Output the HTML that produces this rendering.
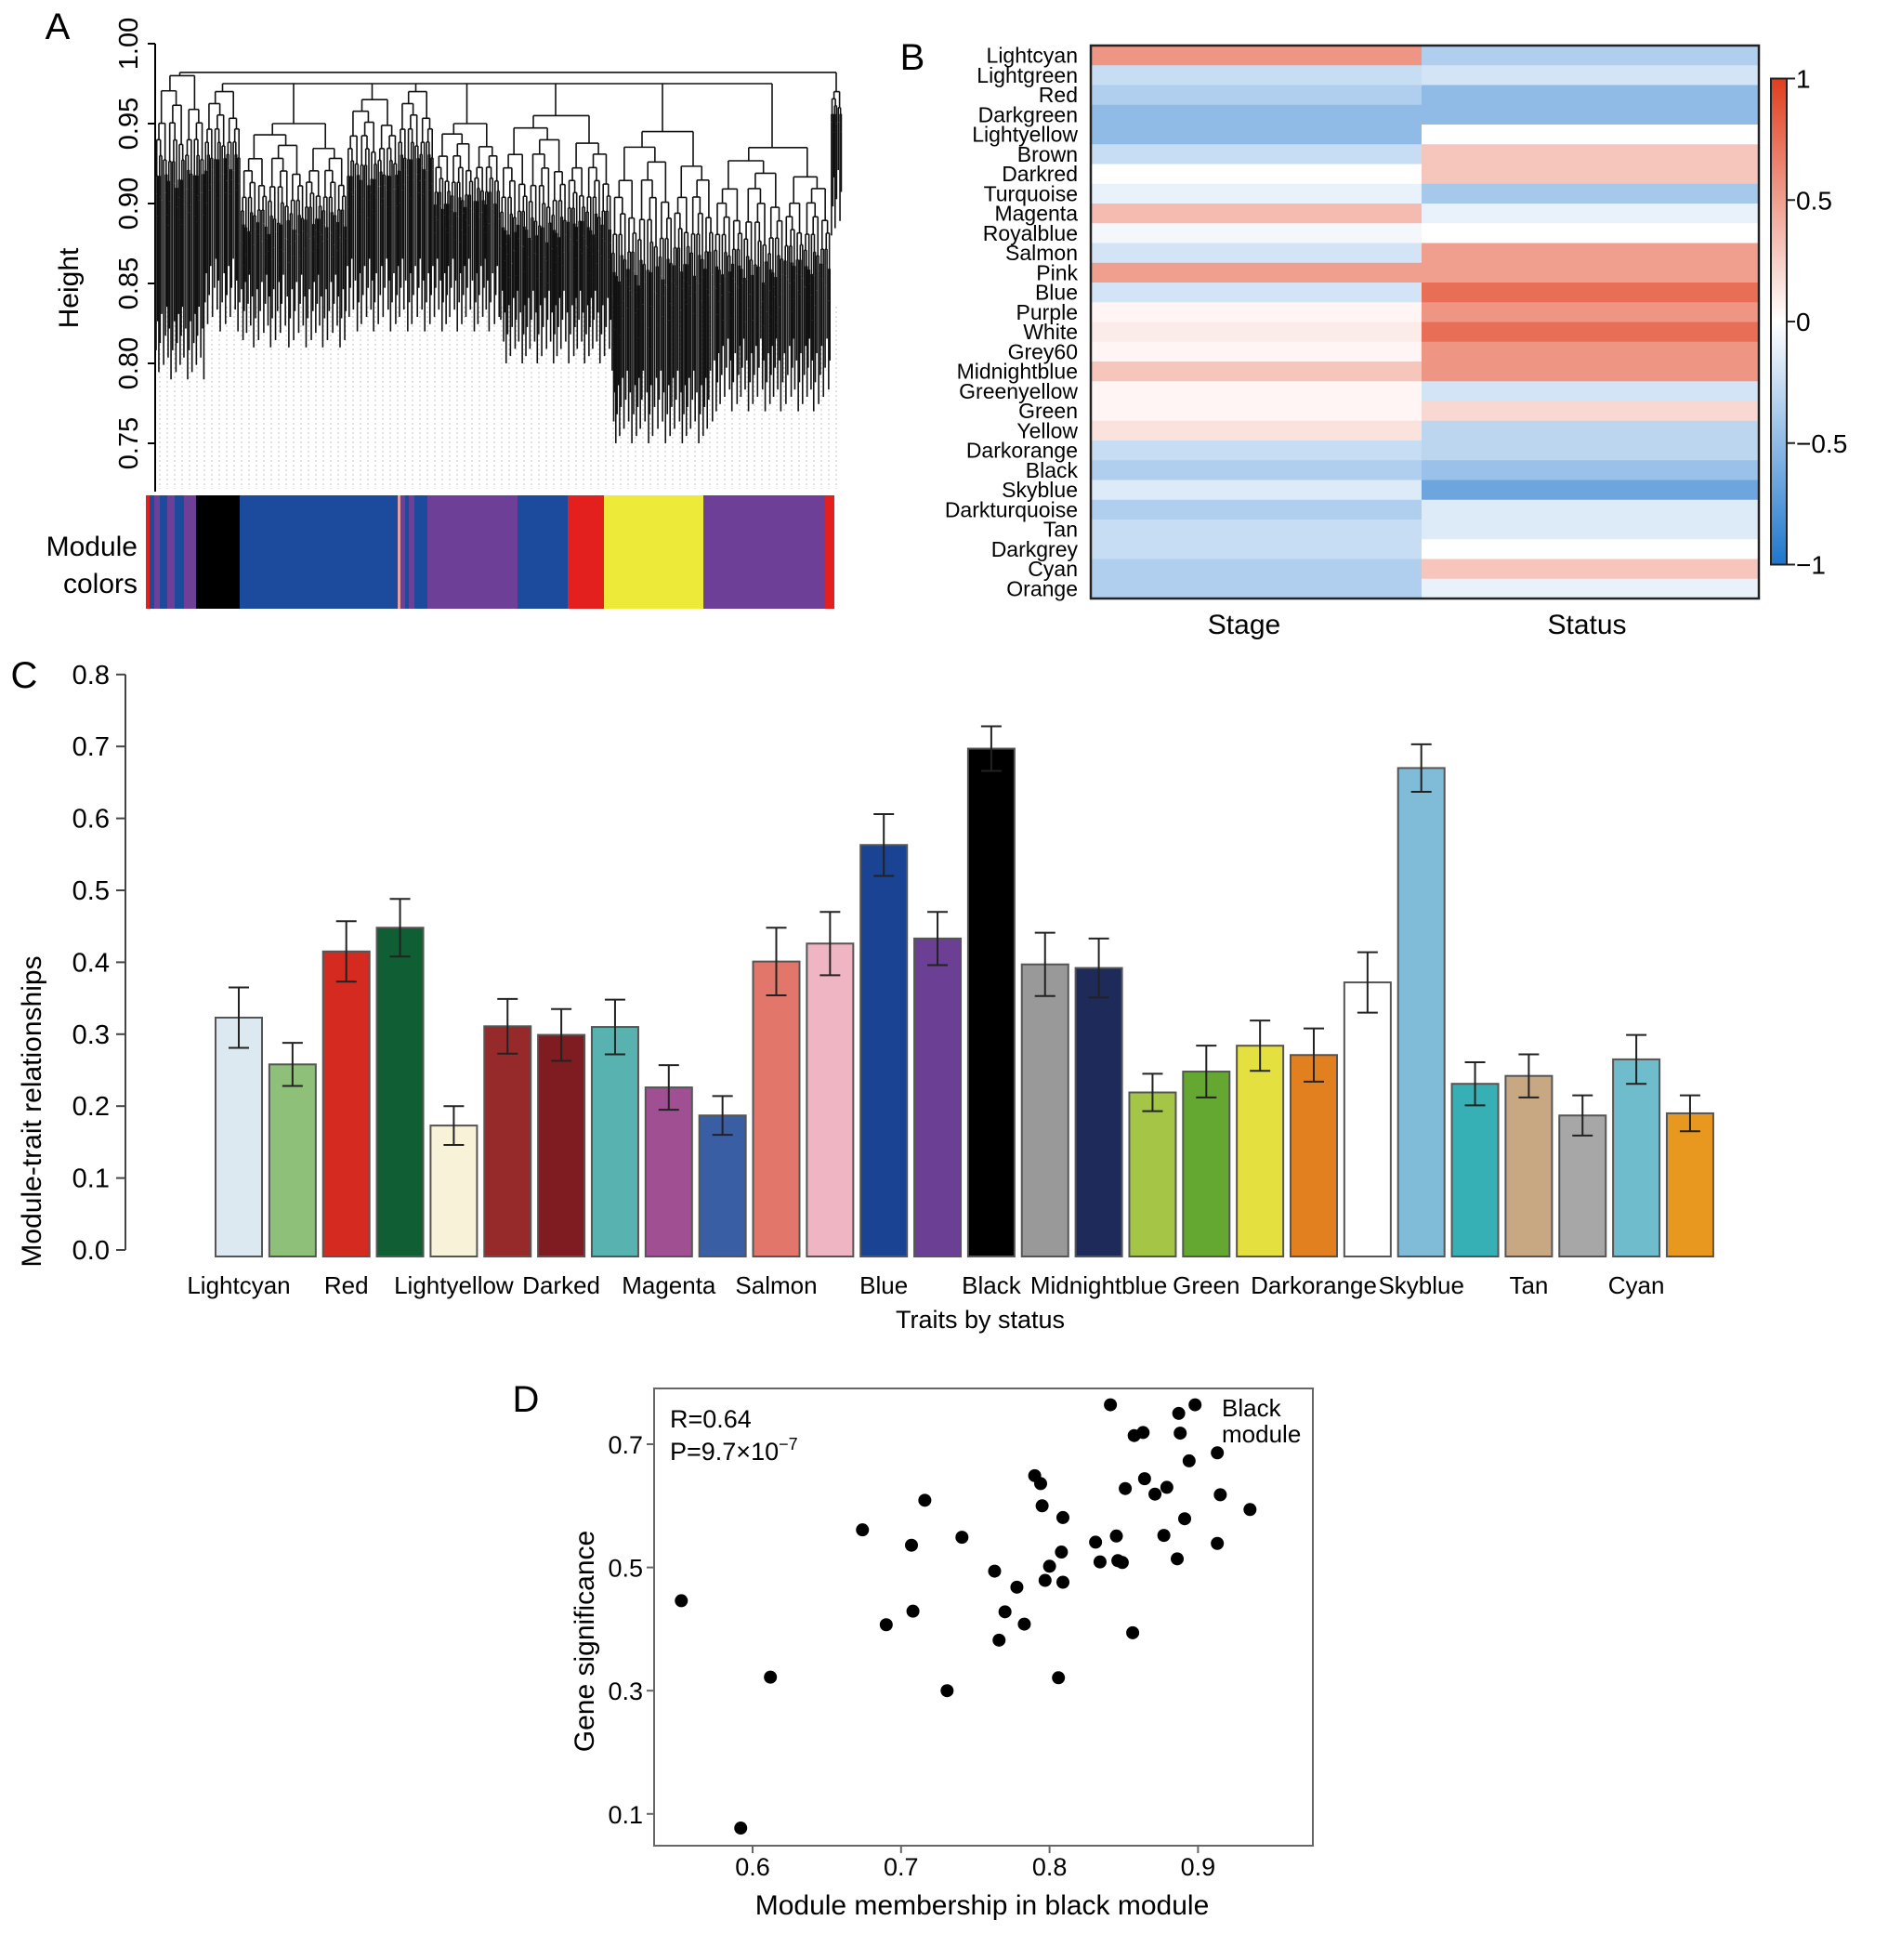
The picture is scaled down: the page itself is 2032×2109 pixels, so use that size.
<!DOCTYPE html>
<html><head><meta charset="utf-8"><style>
html,body{margin:0;padding:0;background:#fff;}
svg{display:block;font-family:"Liberation Sans",sans-serif;}
</style></head><body>
<svg id="fig" xmlns="http://www.w3.org/2000/svg" width="2032" height="2109" viewBox="0 0 2032 2109">
<rect width="2032" height="2109" fill="#fff"/>
<g id="panelA"></g>
<g id="panelB"></g>
<g id="panelC"></g>
<g id="panelD"></g>
</svg>
<script>
// ===== Panel A data =====
const dendroClusters = ["c1","c2","c3","c4","c5","c6","c7","c8","c9","c10"];
const clusterX0 = [167,220,259,373,428,467,538,658,768,894];
const clusterX1 = [220,259,373,428,467,538,658,768,894,906];
const clusterTop = [0.98,0.97,0.95,0.965,0.97,0.95,0.955,0.945,0.935,0.97];
const clusterMin = [0.79,0.82,0.81,0.82,0.82,0.82,0.80,0.75,0.77,0.88];
const moduleSegStart = [157,161,166,172,180,188,198,211,258,428,431,436,440,446,460,557,611,650,757,888];
const moduleSegEnd   = [161,166,172,180,188,198,211,258,428,431,436,440,446,460,557,611,650,757,888,898];
const moduleSegColor = ["#e3201e","#1c4a9c","#6e3f96","#1c4a9c","#6e3f96","#1c4a9c","#6e3f96","#000000","#1c4a9c","#e8a0a0","#6e3f96","#1c4a9c","#6e3f96","#1c4a9c","#6e3f96","#1c4a9c","#e3201e","#eeea3a","#6e3f96","#e3201e"];
const heightTicks = [1.00,0.95,0.90,0.85,0.80,0.75];

// ===== Panel B data =====
const modules = ["Lightcyan","Lightgreen","Red","Darkgreen","Lightyellow","Brown","Darkred","Turquoise","Magenta","Royalblue","Salmon","Pink","Blue","Purple","White","Grey60","Midnightblue","Greenyellow","Green","Yellow","Darkorange","Black","Skyblue","Darkturquoise","Tan","Darkgrey","Cyan","Orange"];
const stageCorr = [0.55,-0.25,-0.35,-0.5,-0.5,-0.25,0.0,-0.1,0.35,-0.05,-0.2,0.5,-0.2,0.05,0.1,0.05,0.3,0.05,0.05,0.15,-0.25,-0.35,-0.15,-0.35,-0.25,-0.25,-0.35,-0.35];
const statusCorr = [-0.35,-0.2,-0.5,-0.5,0.0,0.3,0.3,-0.4,-0.1,0.0,0.5,0.5,0.75,0.55,0.75,0.55,0.55,-0.2,0.2,-0.3,-0.3,-0.45,-0.65,-0.15,-0.15,0.0,0.3,-0.1];
const traits = ["Stage","Status"];
const colorbarTicks = [1,0.5,0,-0.5,-1];
const colorbarLabels = ["1","0.5","0","\u22120.5","\u22121"];

// ===== Panel C data =====
const barNames = modules;
const barValues = [0.323,0.258,0.415,0.448,0.173,0.311,0.299,0.310,0.226,0.187,0.401,0.426,0.563,0.433,0.697,0.397,0.392,0.219,0.248,0.284,0.271,0.372,0.670,0.231,0.242,0.187,0.265,0.190];
const barErrors = [0.042,0.030,0.042,0.040,0.027,0.038,0.036,0.038,0.031,0.027,0.047,0.044,0.043,0.037,0.031,0.044,0.041,0.026,0.036,0.035,0.037,0.042,0.033,0.030,0.030,0.028,0.034,0.025];
const barColors = ["#dce9f0","#8fc07a","#d42a20","#0f5e34","#f8f2d8","#962a2a","#7e1c22","#58b3b0","#a04f93","#3a5ea4","#e3766a","#f0b5c3","#1b4393","#6b3f93","#000000","#999999","#1d2a5a","#a4c545","#64a832","#e4e040","#e2801f","#ffffff","#80bbd8","#36b0b4","#c8a882","#a7a7a7","#6fbccc","#e9981f"];
const barLabels = ["Lightcyan","","Red","","Lightyellow","","Darked","","Magenta","","Salmon","","Blue","","Black","","Midnightblue","","Green","","Darkorange","","Skyblue","","Tan","","Cyan",""];
const cTicks = [0.0,0.1,0.2,0.3,0.4,0.5,0.6,0.7,0.8];

// ===== Panel D data =====
const mmValues = [0.552,0.592,0.612,0.674,0.690,0.707,0.708,0.716,0.731,0.741,0.763,0.766,0.770,0.778,0.783,0.790,0.794,0.795,0.797,0.800,0.806,0.808,0.809,0.809,0.831,0.834,0.841,0.845,0.846,0.849,0.851,0.856,0.857,0.863,0.864,0.871,0.877,0.879,0.886,0.887,0.888,0.891,0.894,0.898,0.913,0.913,0.915,0.935];
const gsValues = [0.446,0.077,0.322,0.561,0.407,0.536,0.429,0.609,0.300,0.549,0.494,0.382,0.428,0.468,0.408,0.649,0.636,0.600,0.479,0.502,0.321,0.525,0.581,0.476,0.541,0.509,0.764,0.551,0.511,0.508,0.628,0.394,0.714,0.719,0.644,0.619,0.552,0.630,0.514,0.750,0.718,0.579,0.673,0.764,0.686,0.539,0.618,0.594];
const dXTicks = [0.6,0.7,0.8,0.9];
const dYTicks = [0.1,0.3,0.5,0.7];

const NS="http://www.w3.org/2000/svg";
function mk(tag,attrs,parent,text){const e=document.createElementNS(NS,tag);for(const k in attrs)e.setAttribute(k,attrs[k]);if(text!==undefined)e.textContent=text;parent.appendChild(e);return e;}

// ---------- Panel A ----------
const A=document.getElementById('panelA');
const yH=h=>47+(1-h)*1720;
let t=mk('text',{x:62,y:42,'font-size':40,'text-anchor':'middle'},A,'A');


let ax=mk('line',{x1:167,y1:yH(1.0),x2:167,y2:529,stroke:'#000','stroke-width':2},A);


heightTicks.forEach(v=>{
  mk('line',{x1:159,y1:yH(v),x2:167,y2:yH(v),stroke:'#000','stroke-width':2},A);
  const tl=mk('text',{x:148,y:yH(v),'font-size':29,'text-anchor':'middle',transform:`rotate(-90 148 ${yH(v)})`},A,v.toFixed(2));
  
  
});
t=mk('text',{x:84,y:310,'font-size':30,'text-anchor':'middle',transform:'rotate(-90 84 310)'},A,'Height');


const guides=mk('g',{stroke:'#c4c4c4','stroke-width':1,'stroke-dasharray':'2,3'},A);
for(let x=172;x<=906;x+=8){mk('line',{x1:x,y1:330,x2:x,y2:526},guides);}
const tree=mk('g',{stroke:'#111','stroke-width':1.6,fill:'none'},A);


let leafCount=0;
function branch(a,b,h,minH,depth,g){
  const y=yH(h);
  if(b-a<2.4||depth>11){
    leafCount++;
    const var_=((leafCount*37)%11)/11*0.05;
    mk('line',{x1:(a+b)/2,y1:y,x2:(a+b)/2,y2:yH(minH+var_)},g);return;}
  const m=a+(b-a)*(depth%2?0.42:0.6);
  const step=(h-minH)/(9-Math.min(depth,7));
  const hl=h-step*(depth%2?0.9:0.45), hr=h-step*(depth%2?0.4:1.0);
  const cl=(a+m)/2, cr=(m+b)/2;
  mk('line',{x1:cl,y1:y,x2:cr,y2:y},g);
  mk('line',{x1:cl,y1:y,x2:cl,y2:yH(hl)},g);
  mk('line',{x1:cr,y1:y,x2:cr,y2:yH(hr)},g);
  branch(a,m,hl,minH,depth+1,g);
  branch(m,b,hr,minH,depth+1,g);
}
dendroClusters.forEach((c,i)=>{branch(clusterX0[i],clusterX1[i],clusterTop[i],clusterMin[i],0,tree);});
const centers=dendroClusters.map((c,i)=>(clusterX0[i]+clusterX1[i])/2);
mk('line',{x1:centers[0],y1:yH(0.982),x2:centers[9],y2:yH(0.982)},tree);
mk('line',{x1:centers[0],y1:yH(0.982),x2:centers[0],y2:yH(clusterTop[0])},tree);
mk('line',{x1:centers[9],y1:yH(0.982),x2:centers[9],y2:yH(clusterTop[9])},tree);
mk('line',{x1:centers[1],y1:yH(0.975),x2:centers[8],y2:yH(0.975)},tree);
for(let i=1;i<9;i++){mk('line',{x1:centers[i],y1:yH(0.975),x2:centers[i],y2:yH(clusterTop[i])},tree);}
moduleSegStart.forEach((s,i)=>{
  const r=mk('rect',{x:s,y:533,width:moduleSegEnd[i]-s,height:122,fill:moduleSegColor[i]},A);
  
  
});
t=mk('text',{x:148,y:598,'font-size':30,'text-anchor':'end'},A,'Module');


t=mk('text',{x:148,y:638,'font-size':30,'text-anchor':'end'},A,'colors');



// ---------- Panel B ----------
const B=document.getElementById('panelB');
function corrColor(v){
  const neg=[30,118,205],pos=[225,62,30];
  const c=v<0?neg:pos,f=Math.min(1,Math.abs(v));
  return `rgb(${Math.round(255+(c[0]-255)*f)},${Math.round(255+(c[1]-255)*f)},${Math.round(255+(c[2]-255)*f)})`;
}
t=mk('text',{x:982,y:75,'font-size':40,'text-anchor':'middle'},B,'B');


const hmL=1174,hmR=1893,hmMid=1530,hmT=49,hmB=644;
const rowH=(hmB-hmT)/modules.length;
modules.forEach((m,i)=>{
  const y=hmT+i*rowH;
  let r=mk('rect',{x:hmL,y:y,width:hmMid-hmL,height:rowH+0.5,fill:corrColor(stageCorr[i])},B);
  
  
  r=mk('rect',{x:hmMid,y:y,width:hmR-hmMid,height:rowH+0.5,fill:corrColor(statusCorr[i])},B);
  
  
  const l=mk('text',{x:1160,y:y+rowH/2+8,'font-size':23,'text-anchor':'end'},B,m);
  
  
});
let fr=mk('rect',{x:hmL,y:hmT,width:hmR-hmL,height:hmB-hmT,fill:'none',stroke:'#222','stroke-width':2.5},B);


traits.forEach((tr,i)=>{
  const l=mk('text',{x:i===0?1339:1708,y:682,'font-size':30,'text-anchor':'middle'},B,tr);
  
  
});
const defs=mk('defs',{},B);
const grad=mk('linearGradient',{id:'cb',x1:0,y1:0,x2:0,y2:1},defs);
[1,0.5,0,-0.5,-1].forEach((v,i)=>mk('stop',{offset:i/4,'stop-color':corrColor(v)},grad));
const cbY=v=>346-v*261.5;
let cb=mk('rect',{x:1906,y:cbY(1),width:17,height:cbY(-1)-cbY(1),fill:'url(#cb)',stroke:'#222','stroke-width':2},B);


colorbarTicks.forEach((v,i)=>{
  mk('line',{x1:1923,y1:cbY(v),x2:1932,y2:cbY(v),stroke:'#222','stroke-width':2},B);
  const l=mk('text',{x:1933,y:cbY(v)+10,'font-size':28},B,colorbarLabels[i]);
  
  
});

// ---------- Panel C ----------
const C=document.getElementById('panelC');
const yC=v=>1345-v*774;
const xC=i=>232+i*57.85;
t=mk('text',{x:26,y:740,'font-size':40,'text-anchor':'middle'},C,'C');


ax=mk('line',{x1:135,y1:yC(0.8),x2:135,y2:yC(0),stroke:'#444','stroke-width':2},C);


cTicks.forEach(v=>{
  mk('line',{x1:125,y1:yC(v),x2:135,y2:yC(v),stroke:'#444','stroke-width':2},C);
  const l=mk('text',{x:118,y:yC(v)+10,'font-size':29,'text-anchor':'end'},C,v.toFixed(1));
  
  
});
t=mk('text',{x:44,y:1196,'font-size':30,'text-anchor':'middle',transform:'rotate(-90 44 1196)'},C,'Module-trait relationships');


barNames.forEach((n,i)=>{
  const x=xC(i),top=yC(barValues[i]);
  const r=mk('rect',{x:x,y:top,width:50,height:1352-top,fill:barColors[i],stroke:'#555','stroke-width':2},C);
  
  
  const cx=x+25,hi=yC(barValues[i]+barErrors[i]),lo=yC(barValues[i]-barErrors[i]);
  const eb=mk('g',{stroke:'#222','stroke-width':2},C);
  
  
  mk('line',{x1:cx,y1:hi,x2:cx,y2:lo},eb);
  mk('line',{x1:cx-11,y1:hi,x2:cx+11,y2:hi},eb);
  mk('line',{x1:cx-11,y1:lo,x2:cx+11,y2:lo},eb);
  if(barLabels[i]){
    const l=mk('text',{x:cx,y:1392,'font-size':26,'text-anchor':'middle'},C,barLabels[i]);
    
    
  }
});
t=mk('text',{x:1055,y:1429,'font-size':27,'text-anchor':'middle'},C,'Traits by status');



// ---------- Panel D ----------
const D=document.getElementById('panelD');
const xD=v=>810+(v-0.6)*1598;
const yD=v=>1554-(v-0.7)*663;
t=mk('text',{x:566,y:1519,'font-size':40,'text-anchor':'middle'},D,'D');


fr=mk('rect',{x:704,y:1494,width:709,height:492,fill:'none',stroke:'#666','stroke-width':2},D);


dXTicks.forEach(v=>{
  mk('line',{x1:xD(v),y1:1986,x2:xD(v),y2:1994,stroke:'#666','stroke-width':2},D);
  const l=mk('text',{x:xD(v),y:2018,'font-size':27,'text-anchor':'middle'},D,v.toFixed(1));
  
  
});
dYTicks.forEach(v=>{
  mk('line',{x1:696,y1:yD(v),x2:704,y2:yD(v),stroke:'#666','stroke-width':2},D);
  const l=mk('text',{x:692,y:yD(v)+10,'font-size':27,'text-anchor':'end'},D,v.toFixed(1));
  
  
});
t=mk('text',{x:1057,y:2060,'font-size':30,'text-anchor':'middle'},D,'Module membership in black module');


t=mk('text',{x:639,y:1766,'font-size':30,'text-anchor':'middle',transform:'rotate(-90 639 1766)'},D,'Gene significance');


t=mk('text',{x:721,y:1536,'font-size':27},D,'R=0.64');


t=mk('text',{x:721,y:1571,'font-size':27},D);


t.innerHTML='P=9.7\u00d710<tspan dy="-11" font-size="18">\u22127</tspan>';
t=mk('text',{x:1315,y:1524,'font-size':26},D,'Black');


t=mk('text',{x:1315,y:1552,'font-size':26},D,'module');


mmValues.forEach((v,i)=>{
  const c=mk('circle',{cx:xD(v),cy:yD(gsValues[i]),r:7,fill:'#000'},D);
  
  
});
</script>
</body></html>
